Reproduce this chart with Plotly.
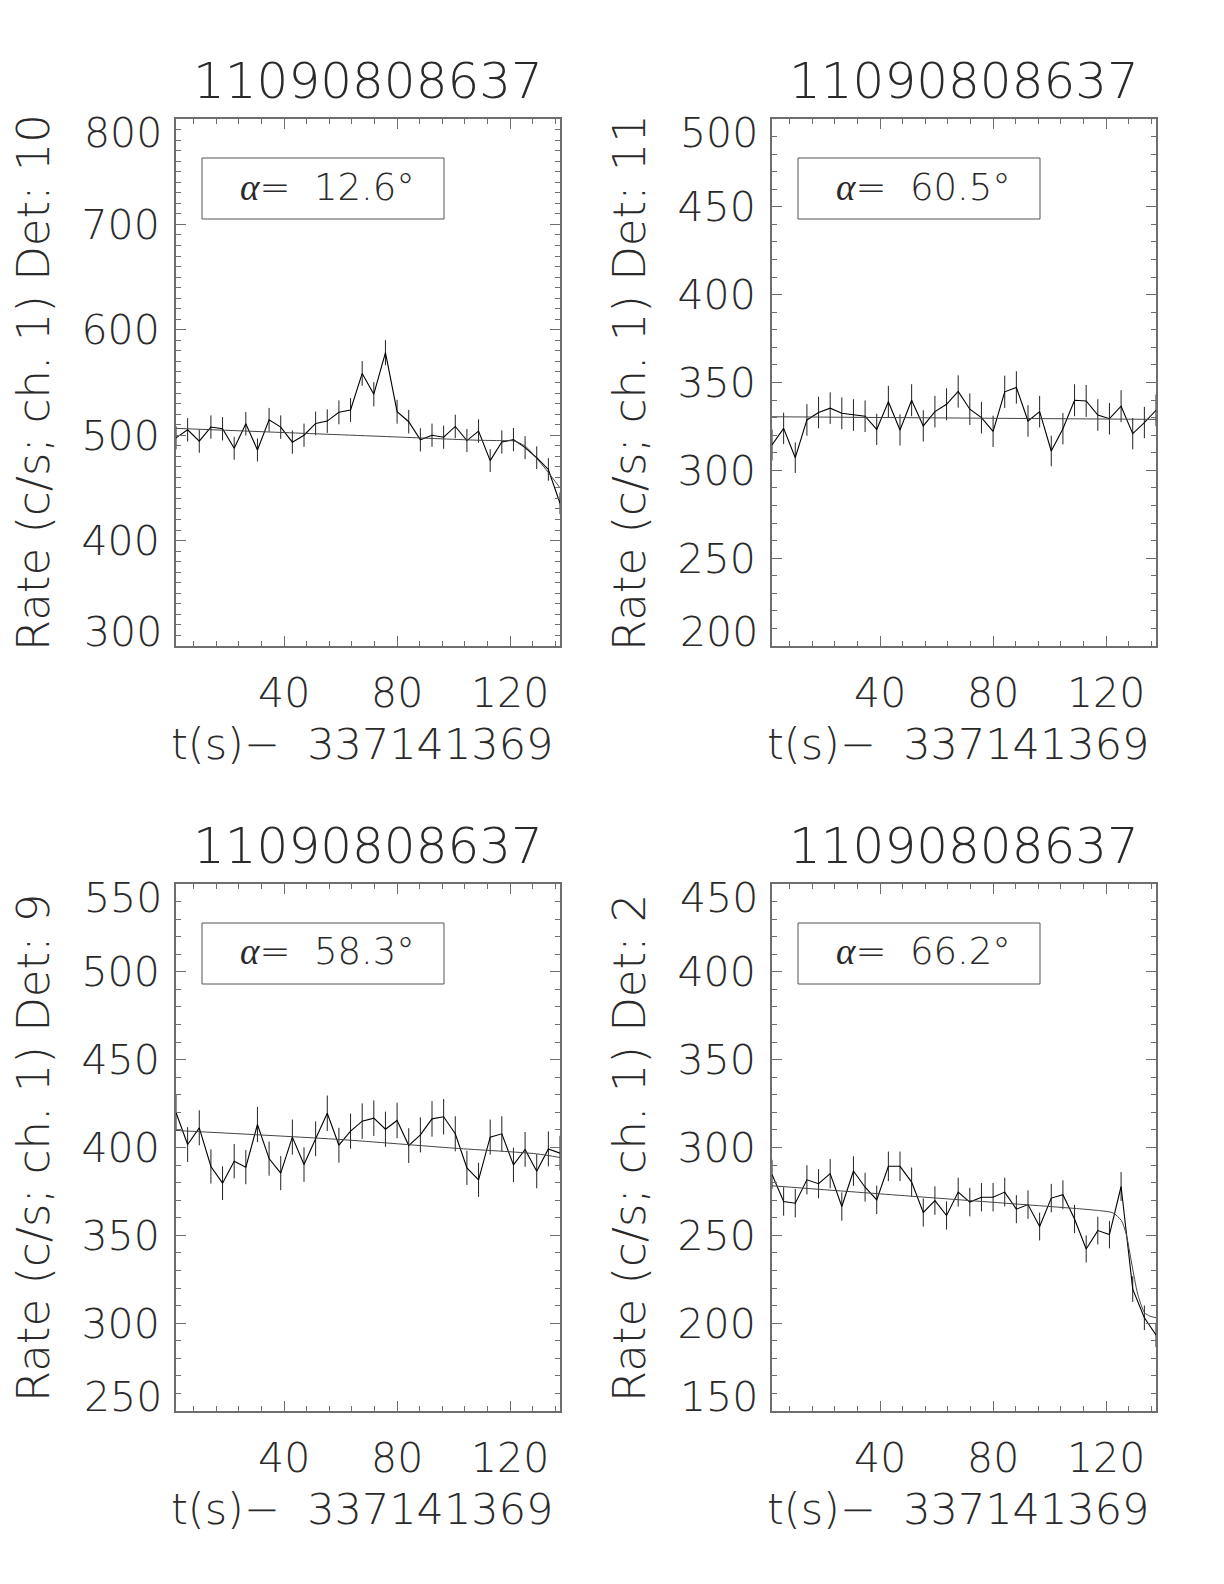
import plotly.graph_objects as go

W, H = 1224, 1584

# ---------------- data ----------------
t = [1.7, 5.82, 9.94, 14.06, 18.18, 22.3, 26.42, 30.54, 34.66, 38.78, 42.9, 47.02,
     51.14, 55.26, 59.38, 63.5, 67.62, 71.74, 75.86, 79.98, 84.1, 88.22, 92.34, 96.46,
     100.58, 104.7, 108.82, 112.94, 117.06, 121.18, 125.3, 129.42, 133.54, 137.66]

rate_det10 = [497.5, 505.1, 494.3, 507.7, 506.1, 487.6, 510.9, 486.0, 514.7, 507.7, 493.4, 500.0,
              511.2, 513.4, 521.7, 523.9, 558.6, 538.9, 578.3, 522.3, 512.8, 495.6, 500.0, 498.1,
              508.3, 494.9, 503.9, 475.9, 493.6, 495.8, 488.2, 478.6, 467.5, 435.4]
err_det10 = [11.0, 11.1, 11.0, 11.1, 11.1, 10.9, 11.2, 10.9, 11.2, 11.1, 11.0, 11.0,
             11.2, 11.2, 11.3, 11.3, 11.7, 11.5, 11.9, 11.3, 11.2, 11.0, 11.0, 11.0,
             11.1, 11.0, 11.1, 10.8, 11.0, 11.0, 10.9, 10.8, 10.7, 10.3]
model_t_det10 = [1.7, 40, 80, 109, 118, 121.2, 125.3, 129.4, 132.7, 137.66]
model_det10 = [506.5, 502.5, 498.3, 495.2, 494.8, 494.6, 489.8, 478.0, 467.5, 450.0]
yticks_det10 = [300, 400, 500, 600, 700, 800]

rate_det11 = [314.4, 323.9, 307.2, 328.7, 332.9, 335.4, 332.5, 331.5, 330.8, 323.3, 339.0, 323.0,
              339.9, 325.3, 333.4, 337.6, 344.9, 334.8, 330.0, 322.2, 344.7, 347.2, 328.1, 333.4,
              311.0, 323.7, 339.9, 339.5, 331.5, 329.4, 336.5, 320.9, 327.2, 334.2]
err_det11 = [8.8, 8.9, 8.7, 9.0, 9.0, 9.0, 9.0, 9.0, 9.0, 8.9, 9.1, 8.9,
             9.1, 8.9, 9.0, 9.1, 9.2, 9.0, 9.0, 8.9, 9.2, 9.2, 9.0, 9.0,
             8.7, 8.9, 9.1, 9.1, 9.0, 9.0, 9.1, 8.9, 8.9, 9.0]
model_t_det11 = [1.7, 137.66]
model_det11 = [330.5, 329.0]
yticks_det11 = [200, 250, 300, 350, 400, 450, 500]

rate_det9 = [419.9, 401.7, 411.2, 389.2, 379.7, 392.2, 388.8, 413.1, 393.7, 385.4, 405.9, 390.3,
             405.0, 419.5, 401.3, 409.3, 415.0, 416.7, 410.4, 415.4, 401.1, 407.2, 416.3, 417.5,
             407.8, 388.4, 381.6, 405.9, 407.8, 390.1, 398.9, 386.5, 399.2, 396.8]
err_det9 = [10.1, 9.9, 10.0, 9.7, 9.6, 9.8, 9.7, 10.0, 9.7, 9.7, 10.0, 9.8,
            9.9, 10.1, 9.9, 10.0, 10.1, 10.1, 10.0, 10.1, 9.9, 10.0, 10.1, 10.1,
            10.0, 9.7, 9.7, 10.0, 10.0, 9.8, 9.9, 9.7, 9.9, 9.8]
model_t_det9 = [1.7, 59.3, 100.3, 129.3, 137.66]
model_det9 = [409.7, 404.6, 399.6, 396.4, 394.3]
yticks_det9 = [250, 300, 350, 400, 450, 500, 550]

rate_det2 = [284.7, 269.3, 268.3, 281.6, 279.4, 285.1, 266.4, 286.6, 277.4, 270.2, 289.3, 289.3,
             280.3, 263.0, 269.8, 261.3, 274.6, 268.9, 271.7, 271.7, 274.6, 264.9, 267.5, 255.0,
             271.2, 273.1, 259.3, 242.2, 252.7, 250.4, 277.8, 219.4, 203.1, 193.3]
err_det2 = [8.3, 8.1, 8.1, 8.3, 8.3, 8.3, 8.1, 8.4, 8.2, 8.1, 8.4, 8.4,
            8.3, 8.0, 8.1, 8.0, 8.2, 8.1, 8.1, 8.1, 8.2, 8.0, 8.1, 7.9,
            8.1, 8.2, 8.0, 7.7, 7.9, 7.8, 8.2, 7.3, 7.0, 6.9]
model_t_det2 = [1.7, 40, 80, 110.6, 118, 122.4, 125.4, 127.1, 129.1, 131.2, 133.6, 135.5, 137.66]
model_det2 = [278.2, 273.6, 268.8, 265.1, 264.0, 262.8, 258.4, 250.8, 233.6, 216.5, 206.0, 204.0, 203.1]
yticks_det2 = [150, 200, 250, 300, 350, 400, 450]

panels = [
    dict(rate=rate_det10, err=err_det10, mt=model_t_det10, m=model_det10,
         det="10", alpha="12.6", yticks=yticks_det10),
    dict(rate=rate_det11, err=err_det11, mt=model_t_det11, m=model_det11,
         det="11", alpha="60.5", yticks=yticks_det11),
    dict(rate=rate_det9, err=err_det9, mt=model_t_det9, m=model_det9,
         det="9", alpha="58.3", yticks=yticks_det9),
    dict(rate=rate_det2, err=err_det2, mt=model_t_det2, m=model_det2,
         det="2", alpha="66.2", yticks=yticks_det2),
]
burst_name = "11090808637"
t_ref = "337141369"
x_tickvals = [40, 80, 120]
x_range = [1.7, 137.66]

# ---------------- layout geometry (screen pixels) ----------------
col_left = [176, 772]
col_width = 384
row_top = [119, 884]
row_height = 527
OFF = 8  # page body margin

def fx(p):
    return (p - OFF) / W

def fy(p):
    return 1 - (p - OFF) / H

FONT = "DejaVu Sans"
TXT = "#2a2a2a"
AX = "#6e6e6e"
TICKFONT = dict(family=FONT, size=41, color=TXT, weight=200)

fig = go.Figure()
layout = dict(
    template="none",
    width=W, height=H, margin=dict(l=0, r=0, t=0, b=0, pad=0),
    paper_bgcolor="white", plot_bgcolor="white", showlegend=False,
    font=dict(family=FONT, color=TXT, weight=200),
)
annotations = []
shapes = []

for i, p in enumerate(panels):
    r, c = divmod(i, 2)
    k = "" if i == 0 else str(i + 1)
    xl = col_left[c]
    yt = row_top[r]
    yt_vals = p["yticks"]
    yt_text = [""] + [str(v) for v in yt_vals[1:-1]] + [""]
    xa = dict(
        domain=[fx(xl), fx(xl + col_width)], anchor="y" + k, range=x_range,
        automargin=False,
        tickvals=x_tickvals, ticks="inside", ticklen=10, tickcolor=AX, tickwidth=1,
        showline=True, linecolor=AX, linewidth=2, mirror="allticks",
        showgrid=False, zeroline=False,
        tickfont=TICKFONT, ticklabelstandoff=10,
        minor=dict(dtick=8, tick0=0, ticks="inside", ticklen=5, tickcolor=AX, showgrid=False),
    )
    ya = dict(
        domain=[fy(yt + row_height), fy(yt)], anchor="x" + k,
        range=[yt_vals[0], yt_vals[-1]], automargin=False,
        tickvals=yt_vals, ticktext=yt_text,
        ticks="inside", ticklen=10, tickcolor=AX, tickwidth=1,
        showline=True, linecolor=AX, linewidth=2, mirror="allticks",
        showgrid=False, zeroline=False,
        tickfont=TICKFONT, ticklabelstandoff=6,
        minor=dict(dtick=10, tick0=0, ticks="inside", ticklen=5, tickcolor=AX, showgrid=False),
    )
    layout["xaxis" + k] = xa
    layout["yaxis" + k] = ya

    fig.add_trace(go.Scatter(
        x=t, y=p["rate"], mode="lines", xaxis="x" + k, yaxis="y" + k,
        line=dict(color="black", width=1.1),
        error_y=dict(type="data", array=p["err"], visible=True,
                     color="#222", thickness=1, width=0),
    ))
    fig.add_trace(go.Scatter(
        x=p["mt"], y=p["m"], mode="lines", xaxis="x" + k, yaxis="y" + k,
        line=dict(color="#444", width=1, shape="spline", smoothing=0.7),
    ))

    # end tick labels, nudged inward like the original
    for v, shift in ((yt_vals[-1], -14), (yt_vals[0], 14)):
        annotations.append(dict(
            text=str(v), x=fx(xl - 12.5), y=v, xref="paper", yref="y" + k,
            xanchor="right", yanchor="middle", yshift=shift, showarrow=False,
            font=TICKFONT,
        ))

    # title
    annotations.append(dict(
        text=burst_name, x=fx(xl + 192), y=fy(yt - 38), xref="paper", yref="paper",
        xanchor="center", yanchor="middle", showarrow=False,
        font=dict(family=FONT, size=50, color=TXT, weight=200),
    ))
    # y label
    annotations.append(dict(
        text="Rate (c/s; ch. 1) Det: " + p["det"], x=fx(xl - 143), y=fy(yt + 264),
        xref="paper", yref="paper", xanchor="center", yanchor="middle",
        textangle=-90, showarrow=False,
        font=dict(family=FONT, size=45, color=TXT, weight=200),
    ))
    # x title
    annotations.append(dict(
        text="t(s)\u2212\u00a0\u00a0" + t_ref, x=fx(xl + 186), y=fy(yt + 625),
        xref="paper", yref="paper", xanchor="center", yanchor="middle", showarrow=False,
        font=dict(family=FONT, size=43, color=TXT, weight=200),
    ))
    # alpha box
    shapes.append(dict(
        type="rect", xref="paper", yref="paper",
        x0=fx(xl + 26), x1=fx(xl + 268), y0=fy(yt + 100), y1=fy(yt + 39),
        line=dict(color="#555", width=1), fillcolor="rgba(0,0,0,0)",
    ))
    annotations.append(dict(
        text=("<span style=\"font-family:'Liberation Serif';font-weight:normal\"><i>\u03b1</i></span>"
              "=\u00a0\u00a0" + p["alpha"] + "\u00b0"),
        x=fx(xl + 151), y=fy(yt + 68),
        xref="paper", yref="paper", xanchor="center", yanchor="middle", showarrow=False,
        font=dict(family=FONT, size=37, color=TXT, weight=200),
    ))

layout["annotations"] = annotations
layout["shapes"] = shapes
fig.update_layout(**layout)
fig.write_html("out.html")
